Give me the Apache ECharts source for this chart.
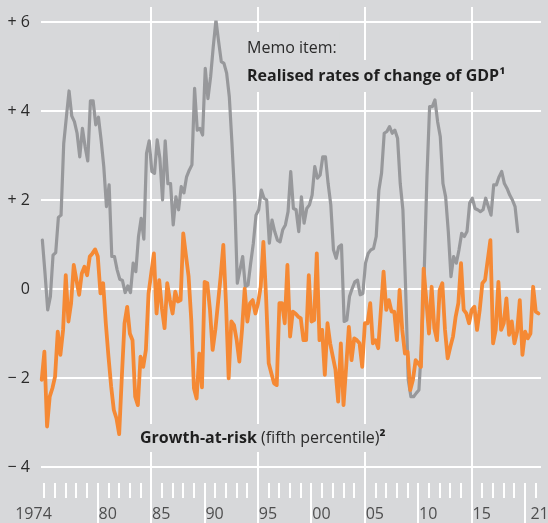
<!DOCTYPE html>
<html><head><meta charset="utf-8">
<script src="https://cdn.jsdelivr.net/npm/echarts/dist/echarts.min.js"></script>
<style>html,body{margin:0;padding:0;background:#d7d8da}#c{width:548px;height:523px}</style>
</head><body><div id="c"></div>
<script>
// Memo item: realised rates of change of GDP (quarterly, first point ~1974.83)
const gdpStart = 1974.83;
const gdpGrowth = [
  1.10, 0.35, -0.47, -0.17, 0.76, 0.82, 1.61, 1.66, 3.27, 3.87,
  4.45, 3.89, 3.76, 3.50, 2.97, 3.61, 3.20, 2.88, 4.23, 4.23,
  3.69, 3.86, 3.35, 2.75, 1.85, 2.34, 0.73, 0.73, 0.43, 0.22,
  0.19, -0.08, 0.07, -0.08, 0.58, 0.39, 1.18, 1.59, 1.12, 3.05,
  3.33, 2.64, 2.60, 3.35, 2.94, 2.00, 3.33, 2.37, 2.37, 1.44,
  2.07, 1.78, 2.30, 2.16, 2.52, 2.67, 2.79, 4.51, 3.57, 3.61,
  3.46, 4.96, 4.28, 4.77, 5.45, 6.04, 5.56, 5.11, 5.07, 4.85,
  4.32, 3.27, 2.07, 0.13, 0.43, 0.73, 0.05, 0.09, 0.58, 1.03,
  1.66, 1.78, 2.22, 2.04, 2.00, 1.03, 1.55, 1.29, 1.10, 1.06,
  1.33, 1.44, 1.74, 2.64, 1.81, 1.78, 1.29, 2.07, 1.48, 1.81,
  1.89, 2.11, 2.75, 2.49, 2.56, 2.97, 2.97, 2.37, 1.89, 0.88,
  0.69, 0.95, 0.99, -0.73, -0.70, -0.17, 0.01, 0.16, 0.20, -0.13,
  -0.10, 0.58, 0.80, 0.88, 0.91, 1.18, 2.22, 2.60, 3.50, 3.54,
  3.65, 3.50, 3.57, 3.39, 2.37, 1.78, 0.05, -2.04, -2.42, -2.42,
  -2.34, -2.27, -1.22, 0.43, 2.52, 4.10, 4.10, 4.25, 3.76, 3.42,
  2.37, 2.07, 1.29, 0.28, 0.73, 0.58, 0.88, 1.25, 1.18, 1.29,
  1.93, 2.04, 1.81, 1.78, 1.74, 1.78, 2.04, 1.85, 1.66, 2.34,
  2.34, 2.52, 2.64, 2.37, 2.26, 2.11, 2.00, 1.85, 1.29
];
// Growth-at-risk (fifth percentile), quarterly, first point ~1974.77
const garStart = 1974.77;
const growthAtRisk = [
  -2.04, -1.41, -3.09, -2.42, -2.23, -1.97, -0.96, -1.48, -0.92, 0.31,
  -0.73, -0.32, 0.54, 0.20, -0.13, 0.35, 0.50, 0.31, 0.73, 0.80,
  0.89, 0.73, -0.10, 0.13, -0.77, -1.52, -2.19, -2.72, -2.91, -3.26,
  -1.97, -0.77, -0.40, -1.00, -1.15, -2.42, -2.61, -1.52, -1.75, -1.37,
  -0.10, 0.35, 0.80, -0.55, 0.20, -0.43, -0.88, 0.13, -0.25, -0.55,
  -0.06, -0.28, -0.25, 1.25, 0.76, 0.28, -0.70, -2.23, -2.46, -1.45,
  -2.21,
  0.16, 0.13, -0.47, -1.37, -0.92, -0.32, 0.28, 0.99, -0.32, -2.01,
  -0.73, -0.81, -1.15, -1.63, -0.92, 0.01, -0.73, -0.32, -0.25, -0.55,
  -0.32, 0.05, 1.06, -0.17, -1.67, -1.90, -2.12, -2.16, -0.32, -0.32,
  -0.77, 0.54, -1.07, -0.51, -0.55, -0.62, -0.66, -1.15, -1.15, 0.31,
  -0.73, -0.70, 0.80, -1.15, -0.92, -1.93, -0.77, -1.22, -1.52, -1.82,
  -2.53, -1.22, -2.61, -1.75, -0.85, -1.60, -1.11, -1.15, -1.22, -1.75,
  -0.77, -0.77, -0.32, -1.22, -1.15,
  -1.33, -0.47, 0.39, -0.47, -0.25, -0.51, -0.51, -1.15, -0.02, -0.92,
  -1.45, -1.41, -2.27, -2.04, -1.60, -1.67, -1.75, 0.46, -0.25, -1.00,
  0.05, -0.88, -1.15, -0.02, 0.13, -0.92, -1.56, -1.30, -1.07, -0.62,
  -0.32, 0.58, -0.47, -0.55, -0.77, -0.47, -0.40, -0.92, -0.47, 0.13,
  0.20, 0.65, 1.10, -1.22, -0.92, 0.16, -0.92, -0.77, -0.21, -1.03,
  -0.73, -1.22, -0.96, -0.25, -1.48, -0.96, -1.11, -1.00, 0.05, -0.51,
  -0.55
];
const yTicks = [-4, -2, 0, 2, 4, 6];
const yTickLabels = ['\u2212 4', '\u2212 2', '0', '+ 2', '+ 4', '+ 6'];
const xLabelYears = [1974, 1980, 1985, 1990, 1995, 2000, 2005, 2010, 2015, 2021];
const xLabels = ['1974', '80', '85', '90', '95', '00', '05', '10', '15', '21'];
const firstTickYear = 1975, lastTickYear = 2021;
const gridYears = [1985, 1995, 2005, 2015];
const majorYears = [1980, 1990, 2000, 2010, 2020];

const BG = '#d7d8da';
const FONT = 'Open Sans';

const toPairs = (start, arr) => arr.map((v, i) => [start + i * 0.25, v]);

// helper grid: y in pixels from top of helper grid (top = 7)
const FULL_H = 516, TICK_TOP = 476, MINOR_BOTTOM = 491, LABEL_Y = 507;
const tickLines = [];
for (let y = firstTickYear; y <= lastTickYear; y++) {
  if (gridYears.includes(y)) tickLines.push({coords: [[y, 0], [y, FULL_H]]});
  else if (majorYears.includes(y)) tickLines.push({coords: [[y, TICK_TOP], [y, FULL_H]]});
  else tickLines.push({coords: [[y, TICK_TOP], [y, MINOR_BOTTOM]]});
}
const labelData = xLabelYears.map((y, i) => {
  const item = {value: [y, LABEL_Y]};
  if (i === 0) item.label = {position: 'inside'};
  if (i === xLabelYears.length - 1) item.label = {position: 'inside', offset: [4, 0]};
  return item;
});

const chart = echarts.init(document.getElementById('c'), null, {renderer: 'canvas'});
chart.setOption({
  backgroundColor: BG,
  animation: false,
  grid: [
    {left: 41, right: 7, top: 22, bottom: 56},
    {left: 0, right: 0, top: 7, bottom: 0}
  ],
  xAxis: [
    {type: 'value', gridIndex: 0, min: 1974.703, max: 2021.507, show: false},
    {type: 'value', gridIndex: 1, min: 1970.865, max: 2022.162, show: false}
  ],
  yAxis: [
    {type: 'value', gridIndex: 0, min: -4, max: 6, interval: 2,
     axisLine: {show: false}, axisTick: {show: false},
     splitLine: {show: true, lineStyle: {color: '#ffffff', width: 2}},
     axisLabel: {margin: 11, color: '#2a2a2a', fontSize: 16, fontFamily: FONT,
       formatter: v => yTickLabels[yTicks.indexOf(v)]}},
    {type: 'value', gridIndex: 1, min: 0, max: FULL_H, inverse: true, show: false}
  ],
  series: [
    {type: 'lines', coordinateSystem: 'cartesian2d', xAxisIndex: 1, yAxisIndex: 1,
     silent: true, z: 1, data: tickLines,
     lineStyle: {color: '#ffffff', width: 2, opacity: 1, type: 'solid'}},
    {type: 'scatter', xAxisIndex: 1, yAxisIndex: 1, symbolSize: 0, silent: true, z: 1,
     data: labelData,
     label: {show: true, position: 'right', distance: 1, color: '#2a2a2a', fontSize: 16, fontFamily: FONT,
       formatter: p => xLabels[p.dataIndex]}},
    {type: 'line', name: 'GDP', xAxisIndex: 0, yAxisIndex: 0, z: 3,
     data: toPairs(gdpStart, gdpGrowth), showSymbol: false, symbol: 'none',
     lineStyle: {color: '#97989b', width: 3.2, join: 'round', cap: 'round'}},
    {type: 'line', name: 'GaR', xAxisIndex: 0, yAxisIndex: 0, z: 4,
     data: toPairs(garStart, growthAtRisk), showSymbol: false, symbol: 'none',
     lineStyle: {color: '#f58934', width: 3.8, join: 'round', cap: 'round'}}
  ],
  graphic: [
    {type: 'text', x: 244, y: 48, z: 10, silent: true,
     style: {text: 'Memo item:', font: '16px "Open Sans"', fill: '#2a2a2a',
       align: 'left', verticalAlign: 'middle', textAlign: 'left', textVerticalAlign: 'middle',
       backgroundColor: BG, padding: [8, 3, 8, 3]}},
    {type: 'text', x: 244, y: 76, z: 10, silent: true,
     style: {text: 'Realised rates of change of GDP\u00b9', font: 'bold 16px "Open Sans"', fill: '#1f1f1f',
       align: 'left', verticalAlign: 'middle', textAlign: 'left', textVerticalAlign: 'middle',
       backgroundColor: BG, padding: [8, 3, 8, 3]}},
    {type: 'text', x: 137, y: 438, z: 10, silent: true,
     style: {text: '{b|Growth-at-risk} {r|(fifth percentile)}{b|\u00b2}',
       font: '16px "Open Sans"', fill: '#1f1f1f',
       rich: {b: {fontWeight: 'bold', fontSize: 16, fontFamily: FONT, fill: '#1f1f1f', color: '#1f1f1f'},
              r: {fontSize: 16, fontFamily: FONT, fill: '#2a2a2a', color: '#2a2a2a'}},
       align: 'left', verticalAlign: 'middle', textAlign: 'left', textVerticalAlign: 'middle',
       backgroundColor: BG, padding: [6, 3, 6, 3]}}
  ]
});
</script></body></html>
